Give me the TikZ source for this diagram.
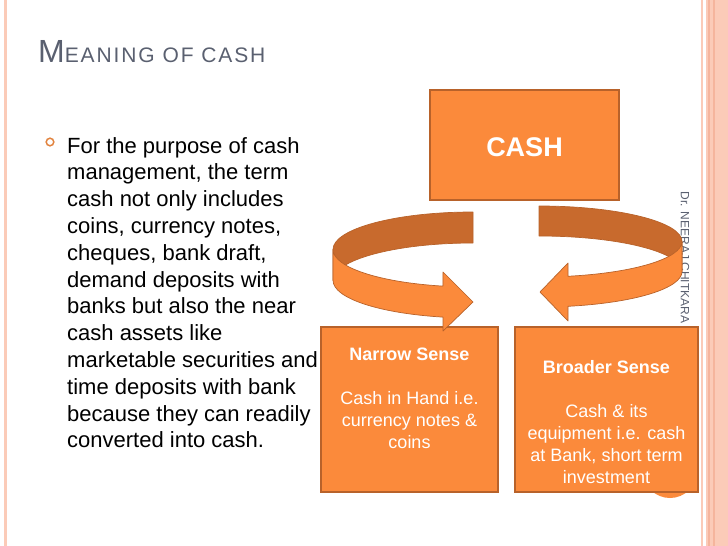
\documentclass[tikz,border=0pt]{standalone}
\usepackage{fontspec}
\setmainfont{Liberation Sans}
\newfontfamily\titlefont[LetterSpace=9]{Liberation Sans}
\usetikzlibrary{positioning}
\definecolor{cashOrange}{HTML}{FB8A3B}
\definecolor{cashEdge}{HTML}{B8622A}
\definecolor{cashDark}{HTML}{C86A2D}
\definecolor{cashPink}{HTML}{FBCBB8}
\definecolor{cashPinkDeep}{HTML}{F5B59D}
\definecolor{cashGray}{HTML}{5A6070}
\definecolor{cashBullet}{HTML}{E2843F}

\begin{document}
\begin{tikzpicture}[x=1pt,y=1pt,
    sensebox/.style={draw=cashEdge,fill=cashOrange,line width=1.2pt,
                     minimum height=165pt,inner sep=0pt},
    sensetext/.style={text=white,align=center,inner sep=0pt,
                      font=\fontsize{18}{22}\selectfont},
    front/.style={fill=cashOrange,draw=cashEdge,line width=0.7pt,line join=round},
    back/.style={fill=cashDark,draw=cashEdge,line width=0.7pt,line join=round}]
  \useasboundingbox (0,0) rectangle (728,-546);
  \fill[white] (0,0) rectangle (728,-546);

  % slide border
  \fill[cashPink] (3.5,0) rectangle (6.5,-546);
  \fill[cashPink] (701,0) rectangle (703,-546);
  \fill[cashPink] (706,0) rectangle (728,-546);
  \draw[cashPinkDeep,line width=1.2pt] (709,0) -- (709,-546);
  \draw[cashPinkDeep,line width=1.2pt] (714,0) -- (714,-546);

  % title and bullet text
  \node[anchor=base west,inner sep=0pt,text=cashGray] (title) at (38,-62)
    {\titlefont\fontsize{32}{32}\selectfont M\fontsize{21}{21}\selectfont EANING OF CASH};
  \draw[cashBullet,line width=1.5pt] (50,-142) circle[radius=3.8];
  \foreach \line [count=\i] in {For the purpose of cash,{management, the term},
      cash not only includes,{coins, currency notes,},{cheques, bank draft,},
      demand deposits with,banks but also the near,cash assets like,
      marketable securities and,time deposits with bank,
      because they can readily,converted into cash.}
    \node[anchor=base west,inner sep=0pt,font=\fontsize{22}{26}\selectfont]
      (line\i) at (67,{-153-26.8*(\i-1)}) {\line};

  \node[rotate=-90,text=cashGray,font=\fontsize{12}{12}\selectfont,inner sep=0pt]
    (author) at (685,-257.5) {Dr. NEERAJ CHITKARA};

  % boxes
  \fill[cashOrange] (670,-471) circle[radius=27];
  \node[sensebox,minimum width=189pt,minimum height=110pt] (cash) at (524.5,-145) {};
  \node[text=white,inner sep=0pt,font=\fontsize{27}{27}\selectfont\bfseries,
        yshift=-2pt] (cashtext) at (cash) {CASH};
  \node[sensebox,minimum width=177pt] (narrow) at (409.5,-409.5) {};
  \node[sensebox,minimum width=183pt] (broader) at (606.5,-409.5) {};
  \node[sensetext,below=21.5pt of narrow.north] (narrowtext)
    {\textbf{Narrow Sense}\\[22pt]Cash in Hand i.e.\\currency notes \&\\coins};
  \node[sensetext,below=33.5pt of broader.north] (broadertext)
    {\textbf{Broader Sense}\\[22pt]Cash \& its\\equipment i.e. cash\\at Bank, short term\\investment};

  % curved arrows
  \draw[back] (473,-212) arc[start angle=90,end angle=180,x radius=140,y radius=37.5]
    -- ++(0,-31) arc[start angle=180,end angle=90,x radius=140,y radius=37.5] -- cycle;
  \draw[front] (333,-249.5) arc[start angle=180,end angle=257.6,x radius=140,y radius=37.5]
    -- (443,-272) -- (473,-302) -- (443,-331) -- (443,-317.1)
    arc[start angle=257.6,end angle=180,x radius=140,y radius=37.5] -- cycle;
  \draw[back] (539,-206) arc[start angle=90,end angle=0,x radius=143,y radius=35.5]
    -- ++(0,-30) arc[start angle=0,end angle=90,x radius=143,y radius=35.5] -- cycle;
  \draw[front] (682,-241.5) arc[start angle=360,end angle=281.7,x radius=143,y radius=35.5]
    -- (568,-263) -- (540,-292) -- (568,-321) -- (568,-306.3)
    arc[start angle=281.7,end angle=360,x radius=143,y radius=35.5] -- cycle;
\end{tikzpicture}
\end{document}
